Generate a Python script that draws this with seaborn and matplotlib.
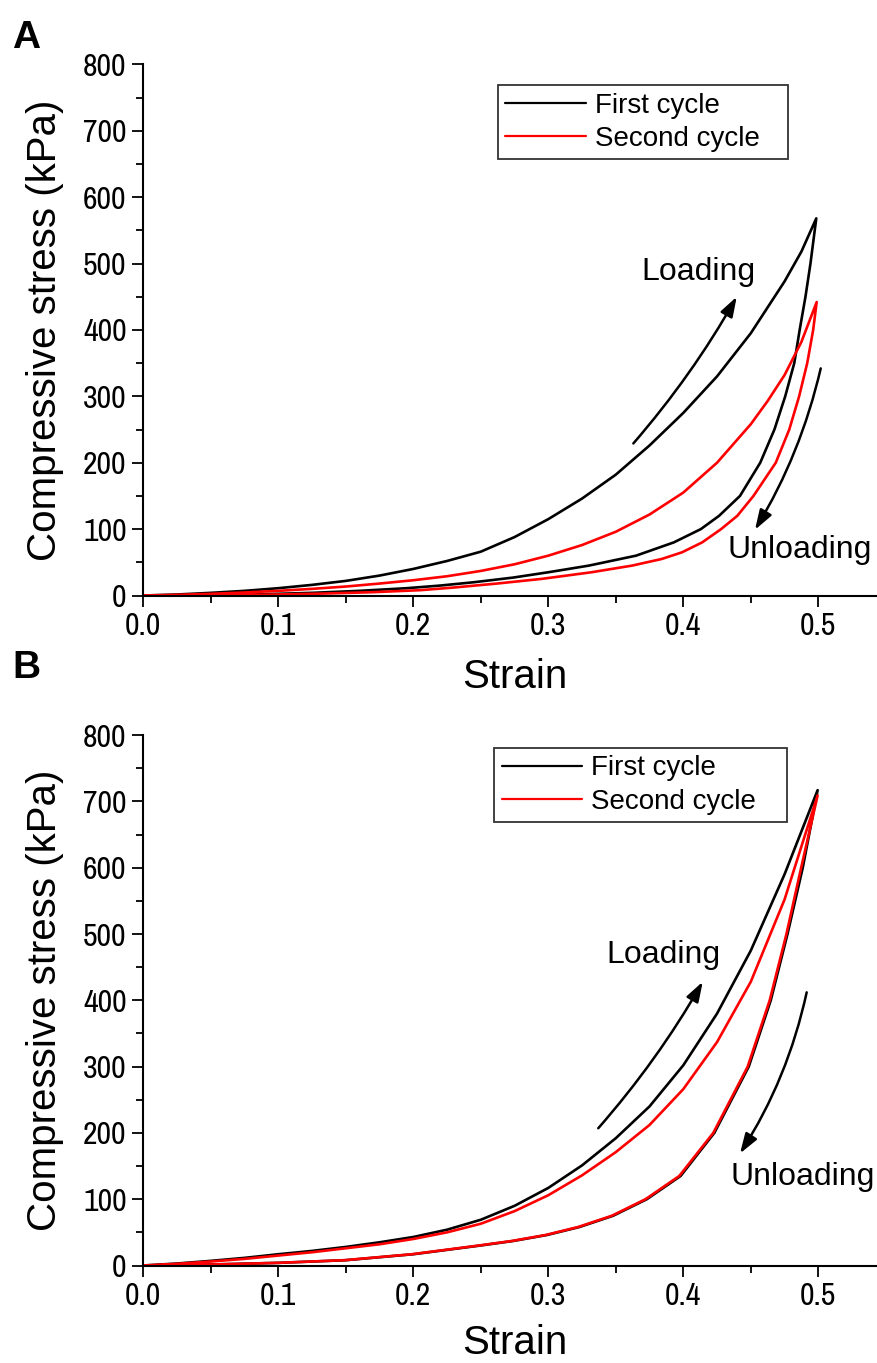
import matplotlib
matplotlib.use("Agg")
import matplotlib.pyplot as plt
import numpy as np
import pandas as pd
import seaborn as sns
from matplotlib.ticker import MultipleLocator, FormatStrFormatter

# ---------------- Data ----------------
# Panel A
a_first_load_strain = [0.0, 0.025, 0.05, 0.075, 0.10, 0.125, 0.15, 0.175, 0.20, 0.225, 0.25, 0.275, 0.30, 0.325,
                       0.35, 0.375, 0.40, 0.425, 0.45, 0.475, 0.4875, 0.4985]
a_first_load_stress = [0, 1.5, 4, 7, 11, 16, 22, 30, 40, 52, 66, 88, 115, 146,
                       182, 226, 275, 330, 395, 473, 518, 568]
a_first_unload_strain = [0.4985, 0.4942, 0.4905, 0.4862, 0.4822, 0.4755, 0.4675, 0.457, 0.442, 0.4265, 0.413,
                         0.393, 0.365, 0.330, 0.300, 0.274, 0.245, 0.220, 0.195, 0.160, 0.125, 0.09, 0.06, 0.03, 0.0]
a_first_unload_stress = [568, 500, 450, 400, 350, 300, 250, 200, 150, 120, 100,
                         80, 60, 45, 35, 27, 20, 15, 11, 7, 4, 2, 1, 0.3, 0]
a_second_load_strain = [0.0, 0.025, 0.05, 0.075, 0.10, 0.125, 0.15, 0.175, 0.20, 0.225, 0.25, 0.275, 0.30, 0.325,
                        0.35, 0.375, 0.40, 0.425, 0.45, 0.4625, 0.475, 0.4875, 0.4988]
a_second_load_stress = [0, 1, 2.5, 4.5, 7, 10, 13.5, 18, 23, 29, 37, 47, 60, 76,
                        96, 122, 155, 200, 258, 293, 332, 382, 442]
a_second_unload_strain = [0.4988, 0.4962, 0.4918, 0.4858, 0.4785, 0.4685, 0.452, 0.440, 0.428, 0.414, 0.399,
                          0.384, 0.362, 0.332, 0.295, 0.262, 0.230, 0.205, 0.170, 0.135, 0.10, 0.06, 0.0]
a_second_unload_stress = [442, 400, 350, 300, 250, 200, 150, 120, 100, 80, 65,
                          55, 45, 35, 25, 18, 12, 8, 5, 3, 1.5, 0.5, 0]

# Panel B
b_first_load_strain = [0.0, 0.025, 0.05, 0.075, 0.10, 0.125, 0.15, 0.175, 0.20, 0.225, 0.25, 0.275, 0.30, 0.325,
                       0.35, 0.375, 0.40, 0.425, 0.45, 0.475, 0.4995]
b_first_load_stress = [0, 3, 7, 11.5, 17, 22, 28, 35, 43, 54, 69, 90, 117, 151,
                       192, 240, 302, 380, 475, 590, 717]
b_first_unload_strain = [0.4995, 0.4885, 0.4772, 0.4648, 0.4485, 0.4230, 0.398, 0.373, 0.348, 0.323, 0.299, 0.274,
                         0.2492, 0.20, 0.15, 0.10, 0.05, 0.0]
b_first_unload_stress = [717, 600, 500, 400, 300, 200, 135, 100, 75, 58, 46, 37,
                         30, 17, 8, 4, 1.5, 0]
b_second_load_strain = [0.0, 0.025, 0.05, 0.075, 0.10, 0.125, 0.15, 0.175, 0.20, 0.225, 0.25, 0.275, 0.30, 0.325,
                        0.35, 0.375, 0.40, 0.425, 0.45, 0.475, 0.4995]
b_second_load_stress = [0, 2.5, 6, 10, 15, 20, 26, 32, 40, 50, 63, 82, 106, 136,
                        171, 212, 266, 337, 428, 552, 709]
b_second_unload_strain = [0.4995, 0.4873, 0.4764, 0.4640, 0.4477, 0.4222, 0.397, 0.372, 0.347, 0.322, 0.298, 0.273,
                          0.248, 0.199, 0.149, 0.10, 0.05, 0.0]
b_second_unload_stress = [709, 600, 500, 400, 300, 200, 135, 100, 75, 58, 46, 37,
                          30, 17, 8, 4, 1.5, 0]

cycle_labels = ["First cycle", "Second cycle"]
cycle_colors = ["black", "red"]


def build_frame(fl_x, fl_y, fu_x, fu_y, sl_x, sl_y, su_x, su_y):
    parts = []
    for lab, xs, ys in [(cycle_labels[0], fl_x + fu_x, fl_y + fu_y),
                        (cycle_labels[1], sl_x + su_x, sl_y + su_y)]:
        parts.append(pd.DataFrame({"strain": xs, "stress": ys, "cycle": lab}))
    return pd.concat(parts, ignore_index=True)


dfA = build_frame(a_first_load_strain, a_first_load_stress, a_first_unload_strain, a_first_unload_stress,
                  a_second_load_strain, a_second_load_stress, a_second_unload_strain, a_second_unload_stress)
dfB = build_frame(b_first_load_strain, b_first_load_stress, b_first_unload_strain, b_first_unload_stress,
                  b_second_load_strain, b_second_load_stress, b_second_unload_strain, b_second_unload_stress)

# ---------------- Style ----------------
sns.set_style("ticks")
plt.rcParams["font.family"] = ["Liberation Sans", "DejaVu Sans"]
for k in ["text.color", "axes.labelcolor", "xtick.color", "ytick.color", "axes.edgecolor"]:
    plt.rcParams[k] = "black"

W, H = 877, 1363
fig = plt.figure(figsize=(W / 100, H / 100), dpi=100)

x0 = 143.3
axA = fig.add_axes([x0 / W, 1 - 595.5 / H, 1 - x0 / W, 531.2 / H])
axB = fig.add_axes([x0 / W, 1 - 1265.5 / H, 1 - x0 / W, 530.4 / H])

palette = dict(zip(cycle_labels, cycle_colors))
narrow = ["Liberation Sans Narrow", "Arial Narrow", "Archivo Narrow", "Liberation Sans"]

panels = [
    (axA, dfA, "A", 20,
     dict(loadtxt=(0.411, 487), load_arrow=((0.363, 229), (0.4396, 450)), load_rad=0.05,
          unloadtxt=(0.486, 68), unload_arrow=((0.5018, 342), (0.4531, 99)), unload_rad=-0.08),
     (0.4834, 0.961, 0.395), -0.153),
    (axB, dfB, "B", 650,
     dict(loadtxt=(0.385, 468), load_arrow=((0.337, 207), (0.4144, 428)), load_rad=0.05,
          unloadtxt=(0.4886, 133), unload_arrow=((0.4914, 412), (0.442, 169)), unload_rad=-0.09),
     (0.478, 0.9757, 0.399), -0.146),
]

for ax, df, letter, letter_y, ann, leg_box, xlab_y in panels:
    sns.lineplot(data=df, x="strain", y="stress", hue="cycle", palette=palette,
                 sort=False, estimator=None, linewidth=1.9, ax=ax)
    ax.set_xlim(0, (W - x0) / 1350)
    ax.set_ylim(0, 800)
    ax.xaxis.set_major_locator(MultipleLocator(0.1))
    ax.xaxis.set_minor_locator(MultipleLocator(0.05))
    ax.yaxis.set_major_locator(MultipleLocator(100))
    ax.yaxis.set_minor_locator(MultipleLocator(50))
    ax.xaxis.set_major_formatter(FormatStrFormatter("%.1f"))
    sns.despine(ax=ax)
    for sp in ["left", "bottom"]:
        ax.spines[sp].set_linewidth(1.5)
        ax.spines[sp].set_color("black")
    ax.tick_params(which="major", length=8, width=1.3, pad=4, labelsize=23,
                   colors="black", labelfontfamily=narrow)
    ax.tick_params(which="minor", length=5, width=1.3)
    for t in ax.get_xticklabels() + ax.get_yticklabels():
        t.set_fontweight("medium")
    ax.set_xlabel("Strain", fontsize=29)
    ax.set_ylabel("Compressive stress (kPa)", fontsize=29)
    ax.xaxis.set_label_coords(0.507, xlab_y)
    ax.yaxis.set_label_coords(-0.134, 0.5)
    ax.xaxis.label.set_va("center")
    ax.yaxis.label.set_va("center")

    handles, labels = ax.get_legend_handles_labels()
    lx, ly, lw_ = leg_box
    leg = ax.legend(handles, labels, loc="upper left", bbox_to_anchor=(lx, ly - 0.2, lw_, 0.2),
                    mode="expand", fontsize=20, frameon=True, fancybox=False, handlelength=2.9,
                    handletextpad=0.33, labelspacing=0.26, borderpad=0.27,
                    borderaxespad=0)
    leg.get_frame().set_edgecolor("black")
    leg.get_frame().set_linewidth(1.3)
    for lh in leg.get_lines():
        lh.set_linewidth(1.6)

    ax.text(*ann["loadtxt"], "Loading", fontsize=23, ha="center", va="center")
    ax.text(*ann["unloadtxt"], "Unloading", fontsize=23, ha="center", va="center")
    aprops = dict(arrowstyle="-|>,head_length=0.6,head_width=0.2", color="black",
                  lw=1.8, mutation_scale=20, shrinkA=0, shrinkB=0)
    s, e = ann["load_arrow"]
    ax.annotate("", xy=e, xytext=s,
                arrowprops=dict(connectionstyle=f"arc3,rad={ann['load_rad']}", **aprops))
    s, e = ann["unload_arrow"]
    ax.annotate("", xy=e, xytext=s,
                arrowprops=dict(connectionstyle=f"arc3,rad={ann['unload_rad']}", **aprops))

    fig.text(12 / W, 1 - letter_y / H, letter, fontsize=28, fontweight="bold", va="top", ha="left")

fig.savefig("out.png", dpi=100)
